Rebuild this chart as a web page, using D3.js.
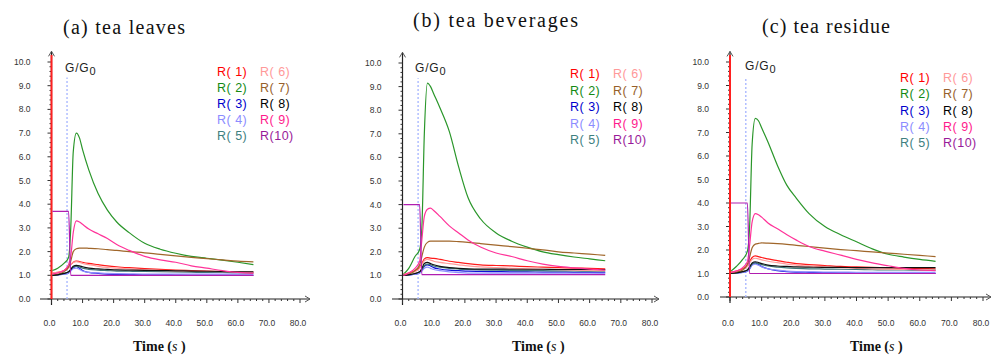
<!DOCTYPE html>
<html lang="en">
<head>
<meta charset="utf-8"/>
<title>G/G0 sensor response</title>
<script src="https://d3js.org/d3.v7.min.js"></script>
<style>
  body { margin: 0; background: #fff; }
  .tick-label { font-family: Arial, "Liberation Sans", sans-serif; font-size: 8.5px; fill: #333; }
  .legend { font-family: Arial, "Liberation Sans", sans-serif; font-size: 12.5px; letter-spacing: 0.5px; }
  .title { font-family: "Liberation Serif", "Times New Roman", serif; font-size: 20px; fill: #111; }
  .xlab { font-family: "Liberation Serif", "Times New Roman", serif; font-size: 14px; font-weight: bold; fill: #111; }
  .gg { font-family: Arial, "Liberation Sans", sans-serif; font-size: 12px; letter-spacing: 0.8px; fill: #222; }
</style>
</head>
<body>
<script>

// time points (s), shared by every sensor trace
var times = [0.3, 2, 4, 5.5, 6.2, 7, 8, 9, 10, 12, 15, 18, 21, 25, 30, 35, 40, 45, 50, 55, 60, 65];

var sensors = ["R( 1)", "R( 2)", "R( 3)", "R( 4)", "R( 5)", "R( 6)", "R( 7)", "R( 8)", "R( 9)", "R(10)"];
var lineColors = ["#ff1a1a", "#2a962a", "#1010d8", "#9090ff", "#3c7878", "#ff9c9c", "#a0662a", "#111111", "#ff3399", "#b01eb0"];
var legendColors = ["#ff0000", "#138a13", "#0000cc", "#8c8cff", "#3e7f7f", "#ff9999", "#96602a", "#000000", "#ff1a8c", "#991a99"];

var xTicks = [0, 10, 20, 30, 40, 50, 60, 70, 80];
var yTicks = [0, 1, 2, 3, 4, 5, 6, 7, 8, 9, 10];

// (a) tea leaves
var leaves = [
  [1.1, 1.12, 1.2, 1.35, 1.45, 1.55, 1.6, 1.58, 1.55, 1.5, 1.45, 1.4, 1.36, 1.32, 1.28, 1.25, 1.22, 1.2, 1.18, 1.16, 1.14, 1.12],
  [1.2, 1.3, 1.5, 1.75, 3.0, 6.2, 7.0, 6.8, 6.3, 5.45, 4.45, 3.75, 3.25, 2.8, 2.35, 2.1, 1.93, 1.8, 1.72, 1.64, 1.55, 1.45],
  [1.0, 1.02, 1.05, 1.1, 1.2, 1.32, 1.38, 1.3, 1.2, 1.12, 1.08, 1.05, 1.04, 1.03, 1.02, 1.02, 1.01, 1.0, 1.0, 1.0, 1.0, 1.0],
  [1.0, 1.02, 1.05, 1.1, 1.18, 1.28, 1.3, 1.25, 1.18, 1.12, 1.1, 1.08, 1.07, 1.06, 1.05, 1.05, 1.05, 1.05, 1.05, 1.05, 1.05, 1.05],
  [1.0, 1.03, 1.08, 1.15, 1.25, 1.35, 1.38, 1.35, 1.3, 1.25, 1.22, 1.2, 1.18, 1.17, 1.16, 1.15, 1.14, 1.13, 1.12, 1.12, 1.11, 1.1],
  [1.1, 1.12, 1.2, 1.3, 1.45, 1.55, 1.58, 1.55, 1.5, 1.45, 1.38, 1.33, 1.3, 1.27, 1.24, 1.21, 1.19, 1.17, 1.16, 1.15, 1.14, 1.13],
  [1.0, 1.05, 1.15, 1.35, 1.6, 2.0, 2.12, 2.15, 2.15, 2.14, 2.12, 2.08, 2.05, 2.0, 1.95, 1.88, 1.82, 1.76, 1.7, 1.65, 1.6, 1.57],
  [1.0, 1.02, 1.08, 1.15, 1.25, 1.38, 1.42, 1.4, 1.36, 1.3, 1.27, 1.25, 1.23, 1.22, 1.21, 1.2, 1.19, 1.18, 1.17, 1.16, 1.15, 1.15],
  [1.05, 1.1, 1.2, 1.45, 1.8, 2.8, 3.3, 3.25, 3.15, 2.95, 2.75, 2.55, 2.3, 2.05, 1.8, 1.65, 1.55, 1.4, 1.3, 1.2, 1.12, 1.08],
  [3.7, 3.7, 3.7, 3.7, 1.0, 1.0, 1.0, 1.0, 1.0, 1.0, 1.0, 1.0, 1.0, 1.0, 1.0, 1.0, 1.0, 1.0, 1.0, 1.0, 1.0, 1.0]
];

// (b) tea beverages
var beverages = [
  [1.05, 1.1, 1.2, 1.35, 1.5, 1.7, 1.75, 1.73, 1.72, 1.68, 1.6, 1.55, 1.5, 1.45, 1.42, 1.4, 1.37, 1.35, 1.33, 1.31, 1.3, 1.28],
  [1.05, 1.3, 1.8, 2.1, 3.0, 7.0, 9.15, 9.0, 8.7, 8.1, 7.1, 5.6, 4.3, 3.4, 2.8, 2.45, 2.2, 2.0, 1.88, 1.78, 1.7, 1.62],
  [1.0, 1.02, 1.05, 1.1, 1.2, 1.38, 1.45, 1.4, 1.33, 1.27, 1.22, 1.2, 1.18, 1.17, 1.16, 1.15, 1.15, 1.14, 1.14, 1.13, 1.13, 1.12],
  [1.0, 1.02, 1.05, 1.1, 1.18, 1.3, 1.35, 1.3, 1.25, 1.2, 1.15, 1.12, 1.1, 1.1, 1.1, 1.1, 1.1, 1.1, 1.1, 1.1, 1.1, 1.1],
  [1.0, 1.03, 1.08, 1.15, 1.25, 1.42, 1.48, 1.45, 1.4, 1.35, 1.3, 1.27, 1.25, 1.23, 1.22, 1.21, 1.2, 1.2, 1.19, 1.19, 1.18, 1.18],
  [1.05, 1.08, 1.15, 1.3, 1.45, 1.62, 1.68, 1.65, 1.6, 1.55, 1.5, 1.45, 1.4, 1.36, 1.33, 1.3, 1.28, 1.26, 1.24, 1.22, 1.21, 1.2],
  [1.0, 1.05, 1.2, 1.45, 1.8, 2.2, 2.4, 2.45, 2.45, 2.45, 2.45, 2.43, 2.4, 2.35, 2.28, 2.22, 2.15, 2.08, 2.0, 1.95, 1.9, 1.85],
  [1.0, 1.02, 1.08, 1.15, 1.3, 1.5, 1.55, 1.5, 1.45, 1.38, 1.33, 1.3, 1.28, 1.27, 1.27, 1.26, 1.26, 1.26, 1.25, 1.25, 1.25, 1.25],
  [1.0, 1.1, 1.3, 1.6, 2.5, 3.5, 3.8, 3.85, 3.75, 3.5, 3.1, 2.8, 2.5, 2.2, 1.95, 1.8, 1.62, 1.48, 1.38, 1.32, 1.27, 1.22],
  [4.0, 4.0, 4.0, 4.0, 1.03, 1.03, 1.03, 1.03, 1.03, 1.03, 1.03, 1.03, 1.03, 1.03, 1.03, 1.03, 1.03, 1.03, 1.03, 1.03, 1.03, 1.03]
];

// (c) tea residue
var residue = [
  [1.05, 1.1, 1.2, 1.35, 1.5, 1.68, 1.75, 1.72, 1.68, 1.62, 1.55, 1.48, 1.42, 1.38, 1.34, 1.3, 1.28, 1.26, 1.24, 1.22, 1.21, 1.2],
  [1.1, 1.3, 1.6, 1.95, 3.0, 6.5, 7.6, 7.5, 7.2, 6.6, 5.6, 4.75, 4.2, 3.55, 3.0, 2.65, 2.35, 2.05, 1.82, 1.7, 1.6, 1.52],
  [1.0, 1.02, 1.05, 1.1, 1.2, 1.38, 1.45, 1.38, 1.3, 1.2, 1.12, 1.08, 1.06, 1.05, 1.04, 1.03, 1.03, 1.02, 1.02, 1.01, 1.0, 1.0],
  [1.0, 1.02, 1.05, 1.1, 1.2, 1.35, 1.4, 1.35, 1.28, 1.2, 1.14, 1.1, 1.08, 1.07, 1.06, 1.06, 1.05, 1.05, 1.05, 1.05, 1.05, 1.05],
  [1.0, 1.03, 1.08, 1.15, 1.25, 1.4, 1.45, 1.42, 1.38, 1.32, 1.27, 1.24, 1.22, 1.2, 1.19, 1.18, 1.17, 1.16, 1.15, 1.15, 1.14, 1.14],
  [1.05, 1.08, 1.15, 1.3, 1.45, 1.6, 1.65, 1.62, 1.58, 1.52, 1.46, 1.4, 1.36, 1.32, 1.28, 1.25, 1.22, 1.2, 1.18, 1.17, 1.16, 1.15],
  [1.0, 1.05, 1.15, 1.4, 1.7, 2.1, 2.25, 2.28, 2.3, 2.29, 2.27, 2.24, 2.2, 2.15, 2.08, 2.02, 1.97, 1.92, 1.87, 1.82, 1.77, 1.72],
  [1.0, 1.02, 1.08, 1.15, 1.28, 1.45, 1.5, 1.47, 1.42, 1.36, 1.32, 1.3, 1.28, 1.27, 1.26, 1.26, 1.25, 1.25, 1.25, 1.25, 1.25, 1.25],
  [1.05, 1.1, 1.25, 1.5, 2.2, 3.2, 3.55, 3.5, 3.4, 3.15, 2.9, 2.65, 2.42, 2.15, 1.95, 1.78, 1.6, 1.45, 1.33, 1.22, 1.15, 1.12],
  [4.0, 4.0, 4.0, 4.0, 1.0, 1.0, 1.0, 1.0, 1.0, 1.0, 1.0, 1.0, 1.0, 1.0, 1.0, 1.0, 1.0, 1.0, 1.0, 1.0, 1.0, 1.0]
];

var titles = ["(a) tea leaves", "(b)  tea beverages", "(c) tea residue"];
var sampleTime = 5;      // dashed marker (s)
var spikeTop = [10.3, null, 10.3];   // red trace on the y axis at t = 0

// panel placement
var panels = [
  {data: leaves,    x0: 51.5, x80: 300, y0: 299, y10: 62, left: 40,  right: 310, titleX: 63,  titleW: 122, titleY: 34, legX: 217, legY: 76, legDy: 16,   timeX: 133, ggX: 65,  ggY: 72},
  {data: beverages, x0: 402.5, x80: 652, y0: 299, y10: 63, left: 392, right: 659, titleX: 413, titleW: 165, titleY: 27, legX: 570, legY: 78, legDy: 16.5, timeX: 512, ggX: 415, ggY: 72},
  {data: residue,   x0: 730,  x80: 983, y0: 297, y10: 62, left: 720, right: 991, titleX: 762, titleW: 128, titleY: 33, legX: 900, legY: 82, legDy: 16.3, timeX: 850, ggX: 745, ggY: 70}
];

var width = 1000, height = 363;

var svg = d3.select("body").append("svg")
    .attr("width", width)
    .attr("height", height);

panels.forEach(function(p, pi) {
  var x = d3.scaleLinear().domain([0, 80]).range([p.x0, p.x80]);
  var y = d3.scaleLinear().domain([0, 10]).range([p.y0, p.y10]);
  var g = svg.append("g");

  // title
  g.append("text").attr("class", "title")
    .attr("x", p.titleX).attr("y", p.titleY)
    .attr("textLength", p.titleW).attr("lengthAdjust", "spacing")
    .text(titles[pi]);

  // x axis line + arrow
  g.append("line")
    .attr("x1", p.left).attr("x2", p.right)
    .attr("y1", y(0)).attr("y2", y(0))
    .attr("stroke", "#222").attr("stroke-width", 1.2);
  g.append("path")
    .attr("d", "M" + (p.right - 5) + "," + (y(0) - 3) + "L" + p.right + "," + y(0) + "L" + (p.right - 5) + "," + (y(0) + 3))
    .attr("fill", "none").attr("stroke", "#555");

  // y axis line + arrow
  var yTop = y(10.45);
  g.append("line")
    .attr("x1", x(0)).attr("x2", x(0))
    .attr("y1", y(0) + 6).attr("y2", yTop)
    .attr("stroke", "#222").attr("stroke-width", 1.2);
  g.append("path")
    .attr("d", "M" + (x(0) - 3) + "," + (yTop + 5) + "L" + x(0) + "," + yTop + "L" + (x(0) + 3) + "," + (yTop + 5))
    .attr("fill", "none").attr("stroke", "#555");

  // x ticks
  var xMinor = d3.range(0, 82, 2);
  g.selectAll(".xt").data(xMinor).enter().append("line")
    .attr("x1", d => x(d)).attr("x2", d => x(d))
    .attr("y1", y(0)).attr("y2", d => y(0) + (d % 10 === 0 ? 4 : 2))
    .attr("stroke", "#333");
  g.selectAll(".xl").data(xTicks).enter().append("text")
    .attr("class", "tick-label")
    .attr("x", d => x(d) - 2).attr("y", 326)
    .attr("text-anchor", "middle")
    .text(d => d3.format(".1f")(d));

  // y ticks
  var yMinor = d3.range(0, 10.1, 0.2);
  g.selectAll(".yt").data(yMinor).enter().append("line")
    .attr("x1", x(0)).attr("x2", (d, i) => x(0) - (i % 5 === 0 ? 4 : 2))
    .attr("y1", d => y(d)).attr("y2", d => y(d))
    .attr("stroke", "#333");
  g.selectAll(".yl").data(yTicks).enter().append("text")
    .attr("class", "tick-label")
    .attr("x", x(0) - 21).attr("y", d => y(d) + 3)
    .attr("text-anchor", "end")
    .text(d => d3.format(".1f")(d));

  // dashed marker
  g.append("line")
    .attr("x1", x(sampleTime)).attr("x2", x(sampleTime))
    .attr("y1", y(0)).attr("y2", y(9.35))
    .attr("stroke", "#a4b4ff").attr("stroke-width", 1.3)
    .attr("stroke-dasharray", "2,2");

  // G/G0 label
  var gg = g.append("text").attr("class", "gg").attr("x", p.ggX).attr("y", p.ggY);
  gg.append("tspan").text("G/G");
  gg.append("tspan").attr("dy", 3).attr("font-size", "11px").text("0");

  // red trace on the y axis
  if (spikeTop[pi] !== null) {
    g.append("line")
      .attr("x1", x(0)).attr("x2", x(0))
      .attr("y1", y(0)).attr("y2", y(spikeTop[pi]))
      .attr("stroke", "#ff2020").attr("stroke-width", 2);
  }

  // sensor curves
  var line = d3.line()
    .x((d, i) => x(times[i]))
    .y(d => y(d))
    .curve(d3.curveMonotoneX);

  g.selectAll(".curve").data(p.data).enter().append("path")
    .attr("d", line)
    .attr("fill", "none")
    .attr("stroke", (d, i) => lineColors[i])
    .attr("stroke-width", 1.2);

  // legend
  g.selectAll(".leg").data(sensors).enter().append("text")
    .attr("class", "legend")
    .attr("x", (d, i) => p.legX + (i < 5 ? 0 : 43))
    .attr("y", (d, i) => p.legY + (i % 5) * p.legDy)
    .attr("fill", (d, i) => legendColors[i])
    .text(d => d);

  // x axis title
  var tl = g.append("text").attr("class", "xlab").attr("x", p.timeX).attr("y", 351);
  tl.append("tspan").text("Time (");
  tl.append("tspan").attr("font-style", "italic").attr("font-weight", "normal").text("s");
  tl.append("tspan").text(" )");
});

</script>
</body>
</html>
